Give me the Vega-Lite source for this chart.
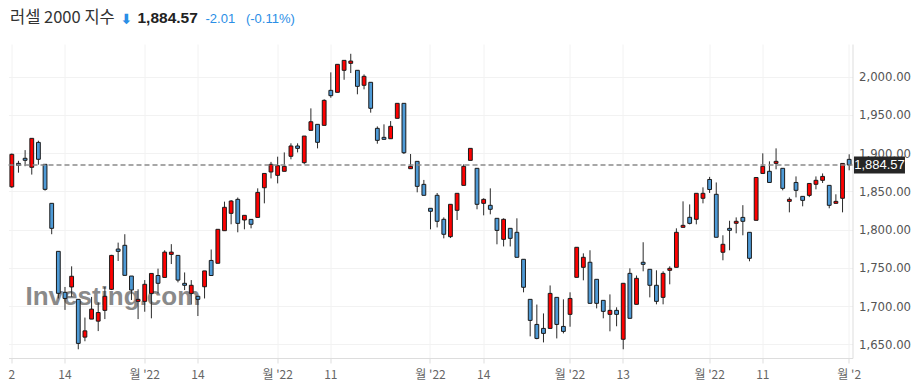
{
  "$schema": "https://vega.github.io/schema/vega-lite/v6.json",
  "width": 844,
  "height": 314,
  "autosize": {"type": "none"},
  "padding": {"left": 8.5, "top": 44, "right": 58.5, "bottom": 32},
  "background": "white",
  "config": {"view": {"stroke": null}},
  "title": {
    "text": "러셀 2000 지수",
    "font": "Noto Sans CJK KR",
    "fontSize": 16.5,
    "fontWeight": "normal",
    "color": "#333333",
    "anchor": "start",
    "frame": "group",
    "offset": 0,
    "baseline": "alphabetic",
    "dx": 1.5,
    "dy": 29
  },
  "data": {
    "values": [
      {"d": "2022-06-02", "o": 1856, "h": 1899.5, "l": 1854.5, "c": 1898.5},
      {"d": "2022-06-03", "o": 1886.7, "h": 1890, "l": 1874.5, "c": 1884.1},
      {"d": "2022-06-06", "o": 1893.3, "h": 1904, "l": 1883, "c": 1890.7},
      {"d": "2022-06-07", "o": 1881.5, "h": 1919.4, "l": 1872, "c": 1919.4},
      {"d": "2022-06-08", "o": 1914.1, "h": 1916.3, "l": 1885, "c": 1892},
      {"d": "2022-06-09", "o": 1885.4, "h": 1885.4, "l": 1851, "c": 1852.7},
      {"d": "2022-06-10", "o": 1834.4, "h": 1834.4, "l": 1794, "c": 1801.7},
      {"d": "2022-06-13", "o": 1771.6, "h": 1771.6, "l": 1710, "c": 1716.7},
      {"d": "2022-06-14", "o": 1718, "h": 1725, "l": 1695, "c": 1710},
      {"d": "2022-06-15", "o": 1725, "h": 1752, "l": 1712, "c": 1739},
      {"d": "2022-06-16", "o": 1708.8, "h": 1708.8, "l": 1643.5, "c": 1651.2},
      {"d": "2022-06-17", "o": 1659.4, "h": 1685, "l": 1654, "c": 1667.6},
      {"d": "2022-06-21", "o": 1683, "h": 1712, "l": 1683, "c": 1696},
      {"d": "2022-06-22", "o": 1680.3, "h": 1704.7, "l": 1667.3, "c": 1691.6},
      {"d": "2022-06-23", "o": 1694.4, "h": 1725, "l": 1683, "c": 1712.8},
      {"d": "2022-06-24", "o": 1721.9, "h": 1767, "l": 1721, "c": 1766.3},
      {"d": "2022-06-27", "o": 1774.6, "h": 1783, "l": 1759, "c": 1771.6},
      {"d": "2022-06-28", "o": 1779.5, "h": 1794, "l": 1740, "c": 1740.2},
      {"d": "2022-06-29", "o": 1739.3, "h": 1739.3, "l": 1708, "c": 1721},
      {"d": "2022-06-30", "o": 1706.2, "h": 1722, "l": 1683, "c": 1708.8},
      {"d": "2022-07-01", "o": 1706.2, "h": 1734, "l": 1692.6, "c": 1728.5},
      {"d": "2022-07-05", "o": 1716.6, "h": 1742.7, "l": 1684, "c": 1742.7},
      {"d": "2022-07-06", "o": 1740, "h": 1749, "l": 1716.6, "c": 1729.8},
      {"d": "2022-07-07", "o": 1737.5, "h": 1773, "l": 1737.5, "c": 1770.6},
      {"d": "2022-07-08", "o": 1767.6, "h": 1781, "l": 1755, "c": 1770.6},
      {"d": "2022-07-11", "o": 1766.3, "h": 1766.3, "l": 1731, "c": 1734},
      {"d": "2022-07-12", "o": 1729.8, "h": 1744, "l": 1721, "c": 1727.2},
      {"d": "2022-07-13", "o": 1716.6, "h": 1734, "l": 1702, "c": 1727.2},
      {"d": "2022-07-14", "o": 1712.8, "h": 1712.8, "l": 1687, "c": 1708.8},
      {"d": "2022-07-15", "o": 1725.3, "h": 1746, "l": 1710, "c": 1746},
      {"d": "2022-07-18", "o": 1759.7, "h": 1774, "l": 1740, "c": 1740},
      {"d": "2022-07-19", "o": 1756, "h": 1800.4, "l": 1756, "c": 1800.4},
      {"d": "2022-07-20", "o": 1798.6, "h": 1836.6, "l": 1798.6, "c": 1829.2},
      {"d": "2022-07-21", "o": 1821.3, "h": 1838.7, "l": 1807, "c": 1837.4},
      {"d": "2022-07-22", "o": 1839.6, "h": 1842, "l": 1796.5, "c": 1808.2},
      {"d": "2022-07-25", "o": 1812.6, "h": 1818.7, "l": 1800.4, "c": 1818.7},
      {"d": "2022-07-26", "o": 1813.4, "h": 1813.4, "l": 1801.7, "c": 1807},
      {"d": "2022-07-27", "o": 1816, "h": 1854, "l": 1816, "c": 1848.7},
      {"d": "2022-07-28", "o": 1854.8, "h": 1873.5, "l": 1834.4, "c": 1873.5},
      {"d": "2022-07-29", "o": 1875.4, "h": 1888.6, "l": 1867, "c": 1885.4},
      {"d": "2022-08-01", "o": 1871, "h": 1895.4, "l": 1860.5, "c": 1883.6},
      {"d": "2022-08-02", "o": 1876.3, "h": 1901, "l": 1876.3, "c": 1882.8},
      {"d": "2022-08-03", "o": 1895.9, "h": 1912.9, "l": 1892, "c": 1909.4},
      {"d": "2022-08-04", "o": 1909.4, "h": 1912.9, "l": 1901, "c": 1906.3},
      {"d": "2022-08-05", "o": 1887.6, "h": 1922.4, "l": 1885.5, "c": 1922.4},
      {"d": "2022-08-08", "o": 1929.9, "h": 1958.6, "l": 1929.9, "c": 1941.1},
      {"d": "2022-08-09", "o": 1937.7, "h": 1937.7, "l": 1906.3, "c": 1914.2},
      {"d": "2022-08-10", "o": 1936.4, "h": 1970.5, "l": 1936.4, "c": 1969.1},
      {"d": "2022-08-11", "o": 1982.2, "h": 2005.7, "l": 1972.5, "c": 1975.2},
      {"d": "2022-08-12", "o": 1979.6, "h": 2016.2, "l": 1979.6, "c": 2016.2},
      {"d": "2022-08-15", "o": 2008.4, "h": 2021.4, "l": 1996, "c": 2021.4},
      {"d": "2022-08-16", "o": 2017.5, "h": 2030, "l": 2004.8, "c": 2020.5},
      {"d": "2022-08-17", "o": 2008.4, "h": 2008.4, "l": 1977, "c": 1987.4},
      {"d": "2022-08-18", "o": 1988.8, "h": 2003, "l": 1983.5, "c": 2000.5},
      {"d": "2022-08-19", "o": 1992.7, "h": 1992.7, "l": 1953, "c": 1958.7},
      {"d": "2022-08-22", "o": 1932.5, "h": 1935, "l": 1912.4, "c": 1916.8},
      {"d": "2022-08-23", "o": 1920.7, "h": 1937.7, "l": 1918.1, "c": 1918.1},
      {"d": "2022-08-24", "o": 1918.9, "h": 1942, "l": 1918.9, "c": 1935.1},
      {"d": "2022-08-25", "o": 1945.6, "h": 1965.2, "l": 1945.6, "c": 1965.2},
      {"d": "2022-08-26", "o": 1965.2, "h": 1965.2, "l": 1898.9, "c": 1900.6},
      {"d": "2022-08-29", "o": 1879.7, "h": 1898.9, "l": 1879.7, "c": 1882.8},
      {"d": "2022-08-30", "o": 1889.3, "h": 1889.3, "l": 1848.8, "c": 1856.6},
      {"d": "2022-08-31", "o": 1859.2, "h": 1865, "l": 1844.9, "c": 1844.9},
      {"d": "2022-09-01", "o": 1827.9, "h": 1827.9, "l": 1800.4, "c": 1824},
      {"d": "2022-09-02", "o": 1844.9, "h": 1847.9, "l": 1802.9, "c": 1810.9},
      {"d": "2022-09-06", "o": 1813.5, "h": 1816, "l": 1788.6, "c": 1793.9},
      {"d": "2022-09-07", "o": 1790.8, "h": 1833.1, "l": 1789, "c": 1833.1},
      {"d": "2022-09-08", "o": 1825.3, "h": 1847.5, "l": 1812.6, "c": 1847.5},
      {"d": "2022-09-09", "o": 1857.9, "h": 1885.4, "l": 1857.9, "c": 1882.8},
      {"d": "2022-09-12", "o": 1890.6, "h": 1906.3, "l": 1890.6, "c": 1906.3},
      {"d": "2022-09-13", "o": 1880.2, "h": 1880.2, "l": 1826.6, "c": 1833.1},
      {"d": "2022-09-14", "o": 1834.4, "h": 1841, "l": 1818.7, "c": 1839.6},
      {"d": "2022-09-15", "o": 1831.8, "h": 1854, "l": 1820, "c": 1826.6},
      {"d": "2022-09-16", "o": 1814.8, "h": 1814.8, "l": 1780.8, "c": 1799},
      {"d": "2022-09-19", "o": 1787.3, "h": 1814.8, "l": 1778, "c": 1813.5},
      {"d": "2022-09-20", "o": 1801.7, "h": 1801.7, "l": 1778, "c": 1788.6},
      {"d": "2022-09-21", "o": 1796.5, "h": 1814.8, "l": 1763.8, "c": 1763.8},
      {"d": "2022-09-22", "o": 1761.2, "h": 1761.2, "l": 1718, "c": 1724.6},
      {"d": "2022-09-23", "o": 1708.8, "h": 1708.8, "l": 1660.4, "c": 1681.3},
      {"d": "2022-09-26", "o": 1676, "h": 1702, "l": 1656.6, "c": 1657.7},
      {"d": "2022-09-27", "o": 1670.8, "h": 1690.4, "l": 1652.5, "c": 1664.3},
      {"d": "2022-09-28", "o": 1670.8, "h": 1727, "l": 1670.8, "c": 1716.6},
      {"d": "2022-09-29", "o": 1711.4, "h": 1711.4, "l": 1657.7, "c": 1676},
      {"d": "2022-09-30", "o": 1673.4, "h": 1708.8, "l": 1664.3, "c": 1666.9},
      {"d": "2022-10-03", "o": 1689.2, "h": 1718, "l": 1673, "c": 1710},
      {"d": "2022-10-04", "o": 1737.6, "h": 1776.9, "l": 1737.6, "c": 1776.9},
      {"d": "2022-10-05", "o": 1750.7, "h": 1769, "l": 1733.7, "c": 1763.8},
      {"d": "2022-10-06", "o": 1757.3, "h": 1773, "l": 1703.6, "c": 1703.6},
      {"d": "2022-10-07", "o": 1735, "h": 1735, "l": 1697, "c": 1703.6},
      {"d": "2022-10-10", "o": 1707.5, "h": 1707.5, "l": 1684, "c": 1693.1},
      {"d": "2022-10-11", "o": 1689.2, "h": 1715.3, "l": 1667, "c": 1694.4},
      {"d": "2022-10-12", "o": 1694.4, "h": 1698.4, "l": 1673.6, "c": 1689.2},
      {"d": "2022-10-13", "o": 1656.6, "h": 1729.8, "l": 1643.5, "c": 1729.8},
      {"d": "2022-10-14", "o": 1742.8, "h": 1749.4, "l": 1684, "c": 1684},
      {"d": "2022-10-17", "o": 1702.3, "h": 1740, "l": 1702.3, "c": 1736.3},
      {"d": "2022-10-18", "o": 1757.3, "h": 1783.5, "l": 1745.5, "c": 1754.6},
      {"d": "2022-10-19", "o": 1748.1, "h": 1748.1, "l": 1711.4, "c": 1727.2},
      {"d": "2022-10-20", "o": 1727.2, "h": 1746.8, "l": 1702.3, "c": 1706.2},
      {"d": "2022-10-21", "o": 1711.4, "h": 1745.5, "l": 1702.3, "c": 1742.8},
      {"d": "2022-10-24", "o": 1746.8, "h": 1752, "l": 1728.5, "c": 1749.4},
      {"d": "2022-10-25", "o": 1750.7, "h": 1801.7, "l": 1750.7, "c": 1796.5},
      {"d": "2022-10-26", "o": 1803, "h": 1837, "l": 1803, "c": 1805.6},
      {"d": "2022-10-27", "o": 1816.1, "h": 1833, "l": 1806.9, "c": 1808.2},
      {"d": "2022-10-28", "o": 1813.5, "h": 1847.5, "l": 1806.9, "c": 1847.5},
      {"d": "2022-10-31", "o": 1841, "h": 1855.3, "l": 1834.4, "c": 1847.5},
      {"d": "2022-11-01", "o": 1865.6, "h": 1869, "l": 1848, "c": 1852.5},
      {"d": "2022-11-02", "o": 1846.2, "h": 1861.7, "l": 1790, "c": 1790},
      {"d": "2022-11-03", "o": 1770.4, "h": 1792.6, "l": 1759.9, "c": 1780.8},
      {"d": "2022-11-04", "o": 1801.7, "h": 1811.6, "l": 1773, "c": 1799.1},
      {"d": "2022-11-07", "o": 1808.3, "h": 1816, "l": 1795.2, "c": 1810.9},
      {"d": "2022-11-08", "o": 1816, "h": 1832, "l": 1792.6, "c": 1810.9},
      {"d": "2022-11-09", "o": 1796.5, "h": 1796.5, "l": 1758.6, "c": 1762.5},
      {"d": "2022-11-10", "o": 1812.2, "h": 1868.2, "l": 1812.2, "c": 1868.2},
      {"d": "2022-11-11", "o": 1873.5, "h": 1899.8, "l": 1873.5, "c": 1882.8},
      {"d": "2022-11-14", "o": 1876.3, "h": 1889.3, "l": 1861.7, "c": 1861.7},
      {"d": "2022-11-15", "o": 1886.7, "h": 1906.3, "l": 1878.9, "c": 1889.3},
      {"d": "2022-11-16", "o": 1880.2, "h": 1880.2, "l": 1851.4, "c": 1854},
      {"d": "2022-11-17", "o": 1837, "h": 1842.2, "l": 1822.6, "c": 1839.6},
      {"d": "2022-11-18", "o": 1861.7, "h": 1869.6, "l": 1842.2, "c": 1851.4},
      {"d": "2022-11-21", "o": 1843.5, "h": 1843.5, "l": 1830.5, "c": 1838.3},
      {"d": "2022-11-22", "o": 1844.8, "h": 1860.4, "l": 1842.5, "c": 1860.4},
      {"d": "2022-11-23", "o": 1859.3, "h": 1869.6, "l": 1852.7, "c": 1864.5},
      {"d": "2022-11-25", "o": 1864.5, "h": 1873.5, "l": 1861, "c": 1869.6},
      {"d": "2022-11-28", "o": 1857.9, "h": 1857.9, "l": 1827.9, "c": 1831.8},
      {"d": "2022-11-29", "o": 1834.4, "h": 1846.2, "l": 1834.4, "c": 1837},
      {"d": "2022-11-30", "o": 1841, "h": 1886.58, "l": 1822.6, "c": 1886.58},
      {"d": "2022-12-01", "o": 1891.9, "h": 1898.5, "l": 1877.6, "c": 1884.57}
    ]
  },
  "layer": [
    {
      "encoding": {
        "x": {
          "field": "d",
          "type": "ordinal",
          "sort": null,
          "scale": {"type": "band", "paddingInner": 0, "paddingOuter": 0},
          "axis": {
            "orient": "bottom",
            "values": ["2022-06-02", "2022-06-14", "2022-07-01", "2022-07-14", "2022-08-01", "2022-08-11", "2022-09-01", "2022-09-14", "2022-10-03", "2022-10-13", "2022-11-01", "2022-11-11", "2022-12-01"],
            "labelExpr": "datum.value == '2022-12-01' ? \"월 '2\" : (indexof(['2022-07-01','2022-08-01','2022-09-01','2022-10-03','2022-11-01'], datum.value) >= 0 ? \"월 '22\" : '' + toNumber(slice(datum.value, 8)))",
            "labelAngle": 0,
            "labelOverlap": false,
            "labelBound": false,
            "labelFont": "Noto Sans CJK KR",
            "labelFontSize": 12,
            "labelColor": "#666666",
            "labelPadding": 6,
            "grid": true,
            "gridColor": "#f2f2f2",
            "gridWidth": 1,
            "domainColor": "#dddddd",
            "tickColor": "#dddddd",
            "tickSize": 5,
            "title": "1,884.57",
            "titleX": 128.5,
            "titleY": -335.3,
            "titleAlign": "left",
            "titleBaseline": "alphabetic",
            "titleAngle": 0,
            "titleFont": "Liberation Sans",
            "titleFontSize": 15.5,
            "titleFontWeight": "bold",
            "titleColor": "#222222"
          }
        },
        "y": {
          "type": "quantitative",
          "scale": {"domain": [1632.1, 2042.8], "nice": false, "zero": false},
          "axis": {
            "orient": "right",
            "values": [1650, 1700, 1750, 1800, 1850, 1900, 1950, 2000],
            "format": ",.2f",
            "grid": true,
            "gridColor": "#f2f2f2",
            "domain": true,
            "domainColor": "#dddddd",
            "ticks": false,
            "labelPadding": 6,
            "labelColor": "#555555",
            "labelFont": "Liberation Sans Narrow, DejaVu Sans Condensed, Roboto",
            "labelFontSize": 13,
            "title": "-2.01\u00a0\u00a0\u00a0(-0.11%)",
            "titleX": -647.5,
            "titleY": -21.3,
            "titleAlign": "left",
            "titleBaseline": "alphabetic",
            "titleAngle": 0,
            "titleFont": "Liberation Sans",
            "titleFontSize": 13,
            "titleFontWeight": "normal",
            "titleColor": "#2a8ee6"
          }
        }
      },
      "layer": [
        {
          "mark": {"type": "rule", "color": "#2a2a2a", "strokeWidth": 1},
          "encoding": {
            "y": {"field": "l"},
            "y2": {"field": "h"}
          }
        },
        {
          "mark": {"type": "bar", "size": 3.8, "stroke": "#1a1a1a", "strokeWidth": 1},
          "encoding": {
            "y": {"field": "o"},
            "y2": {"field": "c"},
            "color": {
              "condition": {"test": "datum.c > datum.o", "value": "#ff0000"},
              "value": "#4e9ad6"
            }
          }
        },
        {
          "transform": [{"filter": "datum.d == '2022-12-01'"}],
          "mark": {
            "type": "point",
            "shape": "M-1,-0.333H1V0.333H-1Z",
            "size": 2601,
            "filled": true,
            "color": "#262626",
            "opacity": 1,
            "strokeWidth": 0,
            "xOffset": 30.3
          },
          "encoding": {
            "y": {"field": "c"}
          }
        },
        {
          "transform": [{"filter": "datum.d == '2022-12-01'"}],
          "mark": {
            "type": "text",
            "color": "#ffffff",
            "font": "Liberation Sans",
            "fontSize": 13,
            "align": "center",
            "baseline": "middle",
            "xOffset": 30.3
          },
          "encoding": {
            "y": {"field": "c"},
            "text": {"field": "c", "type": "quantitative", "format": ",.2f"}
          }
        }
      ]
    },
    {
      "transform": [{"filter": "datum.d == '2022-12-01'"}],
      "mark": {"type": "rule", "color": "#8a8a8a", "strokeWidth": 1.5, "strokeDash": [5, 3]},
      "encoding": {
        "x": {
          "datum": 0,
          "type": "quantitative",
          "scale": {"domain": [0, 1], "nice": false, "zero": false},
          "axis": {
            "orient": "top",
            "labels": false,
            "ticks": false,
            "domain": false,
            "grid": false,
            "title": "Investing.com",
            "titleX": 16.5,
            "titleY": 260,
            "titleAlign": "left",
            "titleBaseline": "alphabetic",
            "titleAngle": 0,
            "titleFont": "Liberation Sans",
            "titleFontSize": 26,
            "titleFontWeight": "bold",
            "titleColor": "#8a8a8a"
          }
        },
        "x2": {"datum": 1},
        "y": {
          "field": "c",
          "type": "quantitative",
          "scale": {"domain": [1632.1, 2042.8], "nice": false, "zero": false},
          "axis": {
            "orient": "left",
            "labels": false,
            "ticks": false,
            "domain": false,
            "grid": false,
            "title": "⬇",
            "titleX": 111.5,
            "titleY": -21,
            "titleAlign": "left",
            "titleBaseline": "alphabetic",
            "titleAngle": 0,
            "titleFont": "DejaVu Sans",
            "titleFontSize": 14,
            "titleFontWeight": "bold",
            "titleColor": "#2a8ee6"
          }
        }
      }
    }
  ],
  "resolve": {
    "scale": {"x": "independent", "y": "independent"},
    "axis": {"x": "independent", "y": "independent"}
  }
}
